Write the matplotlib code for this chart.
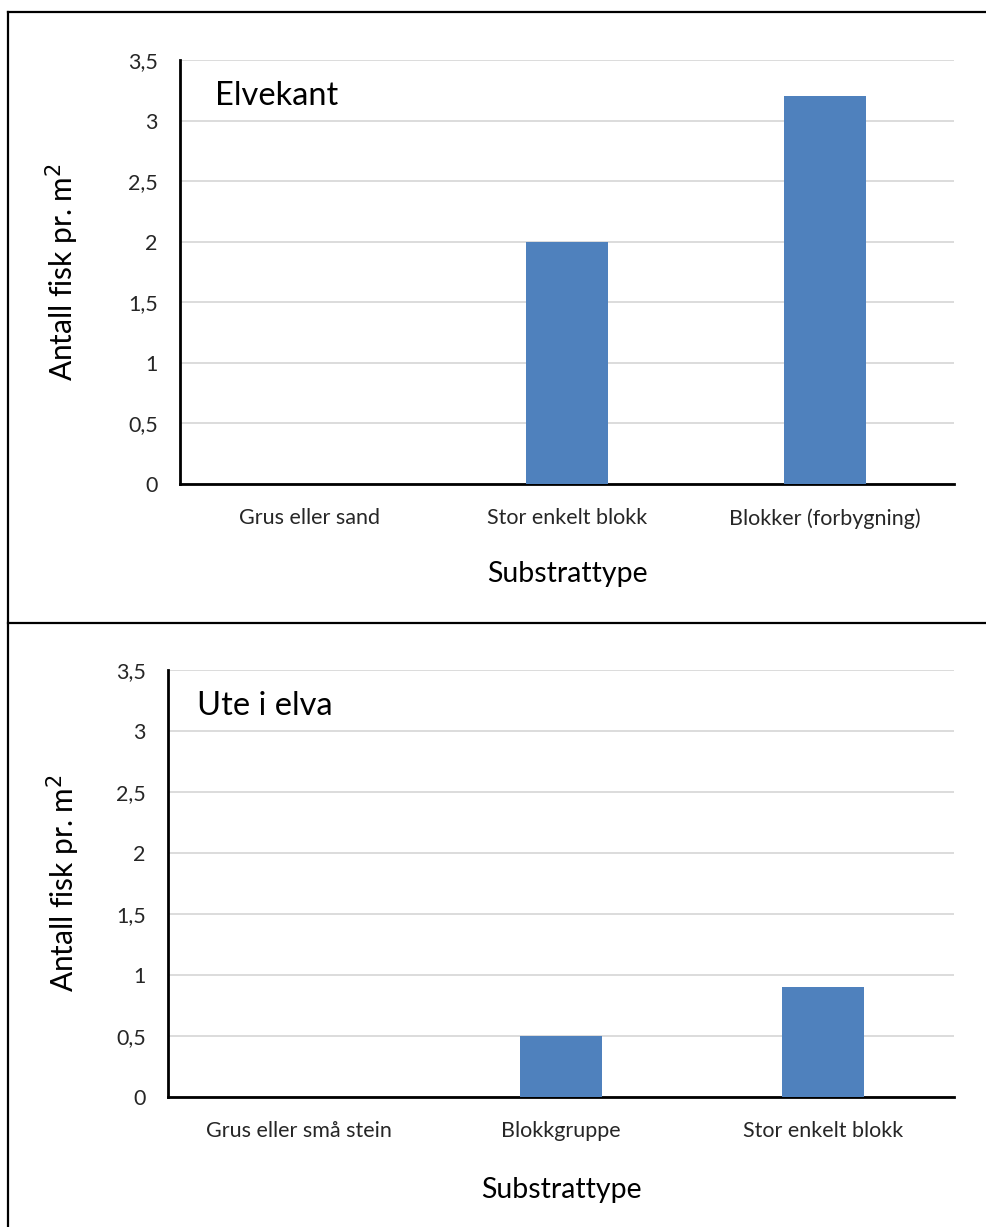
import numpy as np
import matplotlib
matplotlib.use("Agg")
import matplotlib.pyplot as plt
from matplotlib.lines import Line2D

plt.rcParams['font.family'] = ['Lato', 'DejaVu Sans']

# data
kat_elvekant = ["Grus eller sand", "Stor enkelt blokk", "Blokker (forbygning)"]
fisk_elvekant = [0.0, 2.0, 3.2]

kat_ute = ["Grus eller små stein", "Blokkgruppe", "Stor enkelt blokk"]
fisk_ute = [0.0, 0.5, 0.9]

y_ticks = [0, 0.5, 1, 1.5, 2, 2.5, 3, 3.5]
y_ticklabels = ["0", "0,5", "1", "1,5", "2", "2,5", "3", "3,5"]

farge = "#4F81BD"

fig = plt.figure(figsize=(9.86, 12.27), dpi=100)

ax1 = fig.add_axes([0.1826, 0.6055, 0.785, 0.3456])
ax2 = fig.add_axes([0.1704, 0.1060, 0.7972, 0.3480])


def tegn(ax, kat, verdier, tittel, ylab_x, tittel_x, xpad):
    x = np.arange(len(kat))
    ax.bar(x, verdier, width=0.315, color=farge, zorder=3)
    ax.set_xlim(-0.5, len(kat) - 0.5)
    ax.set_ylim(0, 3.5)
    ax.set_yticks(y_ticks)
    ax.set_yticklabels(y_ticklabels)
    ax.set_xticks(x)
    ax.set_xticklabels(kat)
    ax.tick_params(axis='both', length=0, labelsize=15.5, colors='#262626')
    ax.tick_params(axis='y', pad=16)
    ax.tick_params(axis='x', pad=17.5)
    ax.yaxis.grid(True, color='#d9d9d9', linewidth=1.3, zorder=0)
    ax.set_axisbelow(True)
    for s in ['top', 'right']:
        ax.spines[s].set_visible(False)
    for s in ['left', 'bottom']:
        ax.spines[s].set_linewidth(2)
        ax.spines[s].set_color('black')
    ax.set_xlabel("Substrattype", fontsize=20.5, labelpad=xpad)
    ax.set_ylabel("Antall fisk pr. m$^2$", fontsize=21.5)
    ax.yaxis.set_label_coords(ylab_x, 0.5)
    ax.text(tittel_x, 0.915, tittel, transform=ax.transAxes, fontsize=23.5,
            va='center', ha='left')


tegn(ax1, kat_elvekant, fisk_elvekant, "Elvekant", -0.128, 0.045, 23)
tegn(ax2, kat_ute, fisk_ute, "Ute i elva", -0.11, 0.037, 26)

# ramme rundt panelene
W, H = 986, 1227
fig.add_artist(Line2D([8 / W, 8 / W], [0, 1 - 12 / H], color='black', lw=1.6,
                      transform=fig.transFigure))
fig.add_artist(Line2D([8 / W, 1], [1 - 12 / H, 1 - 12 / H], color='black', lw=1.6,
                      transform=fig.transFigure))
fig.add_artist(Line2D([8 / W, 1], [1 - 623 / H, 1 - 623 / H], color='black', lw=1.6,
                      transform=fig.transFigure))

fig.savefig("out.png", dpi=100)
